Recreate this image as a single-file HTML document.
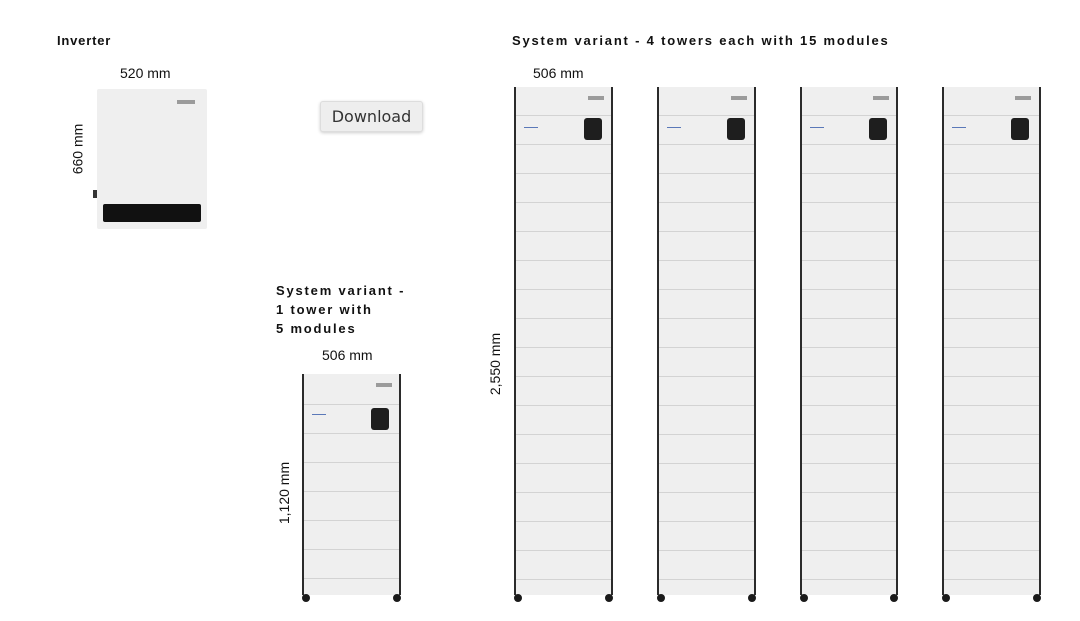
<!DOCTYPE html>
<html><head><meta charset="utf-8"><style>
body{margin:0;width:1080px;height:621px;background:#fff;position:relative;overflow:hidden;font-family:"Liberation Sans",sans-serif;color:#111}
.a{position:absolute}
.b{font-weight:bold;font-size:13px;letter-spacing:1.8px}
.t{font-size:14px}
.rot{transform:rotate(-90deg);transform-origin:center;white-space:nowrap}
.tw{position:absolute;background:#efefef repeating-linear-gradient(to bottom,transparent 0 28px,#d3d3d3 28px 29px);border-left:2px solid #2b2b2b;border-right:2px solid #2b2b2b;box-sizing:border-box}
.knob{position:absolute;width:18px;height:22px;background:#1e1e1e;border-radius:3px}
.bar{position:absolute;width:14px;height:1px;background:#5a78b8}
.logo{position:absolute;width:16px;height:4px;background:#777;opacity:.7}
.w{position:absolute;width:8px;height:8px;border-radius:50%;background:#1a1a1a}
</style></head><body>
<div class="a b" style="left:57px;top:33px;letter-spacing:0.8px">Inverter</div>
<div class="a t" style="left:120px;top:65px">520 mm</div>
<div class="a t rot" style="left:52px;top:141px">660 mm</div>
<div class="a" style="left:97px;top:89px;width:110px;height:140px;background:#efefef;border-radius:2px">
 <div class="a" style="left:6px;top:115px;width:98px;height:18px;background:#111;border-radius:2px"></div>
 <div class="logo" style="left:80px;top:11px;width:18px"></div>
</div>
<div class="a" style="left:93px;top:190px;width:4px;height:8px;background:#333"></div>
<div class="a" style="left:320px;top:101px;width:103px;height:31px;background:#eee;border:1px solid #ddd;box-sizing:border-box;border-radius:3px;box-shadow:0 1px 3px rgba(0,0,0,.2);font-family:'DejaVu Sans',sans-serif;font-size:16px;color:#333;text-align:center;line-height:29px">Download</div>

<div class="a b" style="left:512px;top:33px">System variant - 4 towers each with 15 modules</div>
<div class="a t" style="left:533px;top:65px">506 mm</div>
<div class="a t rot" style="left:464px;top:356px">2,550 mm</div>

<div class="tw" style="left:514px;top:87px;width:99px;height:508px"></div>
<div class="tw" style="left:657px;top:87px;width:99px;height:508px"></div>
<div class="tw" style="left:800px;top:87px;width:98px;height:508px"></div>
<div class="tw" style="left:942px;top:87px;width:99px;height:508px"></div>
<div class="knob" style="left:584px;top:118px"></div>
<div class="knob" style="left:727px;top:118px"></div>
<div class="knob" style="left:869px;top:118px"></div>
<div class="knob" style="left:1011px;top:118px"></div>
<div class="bar" style="left:524px;top:127px"></div>
<div class="bar" style="left:667px;top:127px"></div>
<div class="bar" style="left:810px;top:127px"></div>
<div class="bar" style="left:952px;top:127px"></div>
<div class="logo" style="left:588px;top:96px"></div>
<div class="logo" style="left:731px;top:96px"></div>
<div class="logo" style="left:873px;top:96px"></div>
<div class="logo" style="left:1015px;top:96px"></div>
<div class="w" style="left:514px;top:594px"></div><div class="w" style="left:605px;top:594px"></div>
<div class="w" style="left:657px;top:594px"></div><div class="w" style="left:748px;top:594px"></div>
<div class="w" style="left:800px;top:594px"></div><div class="w" style="left:890px;top:594px"></div>
<div class="w" style="left:942px;top:594px"></div><div class="w" style="left:1033px;top:594px"></div>

<div class="a b" style="left:276px;top:281px;line-height:19px">System variant -<br>1 tower with<br>5 modules</div>
<div class="a t" style="left:322px;top:347px">506 mm</div>
<div class="a t rot" style="left:253px;top:485px">1,120 mm</div>
<div class="tw" style="left:302px;top:374px;width:99px;height:221px;background-position:0 2px"></div>
<div class="knob" style="left:371px;top:408px"></div>
<div class="bar" style="left:312px;top:414px"></div>
<div class="logo" style="left:376px;top:383px"></div>
<div class="w" style="left:302px;top:594px"></div><div class="w" style="left:393px;top:594px"></div>
</body></html>
